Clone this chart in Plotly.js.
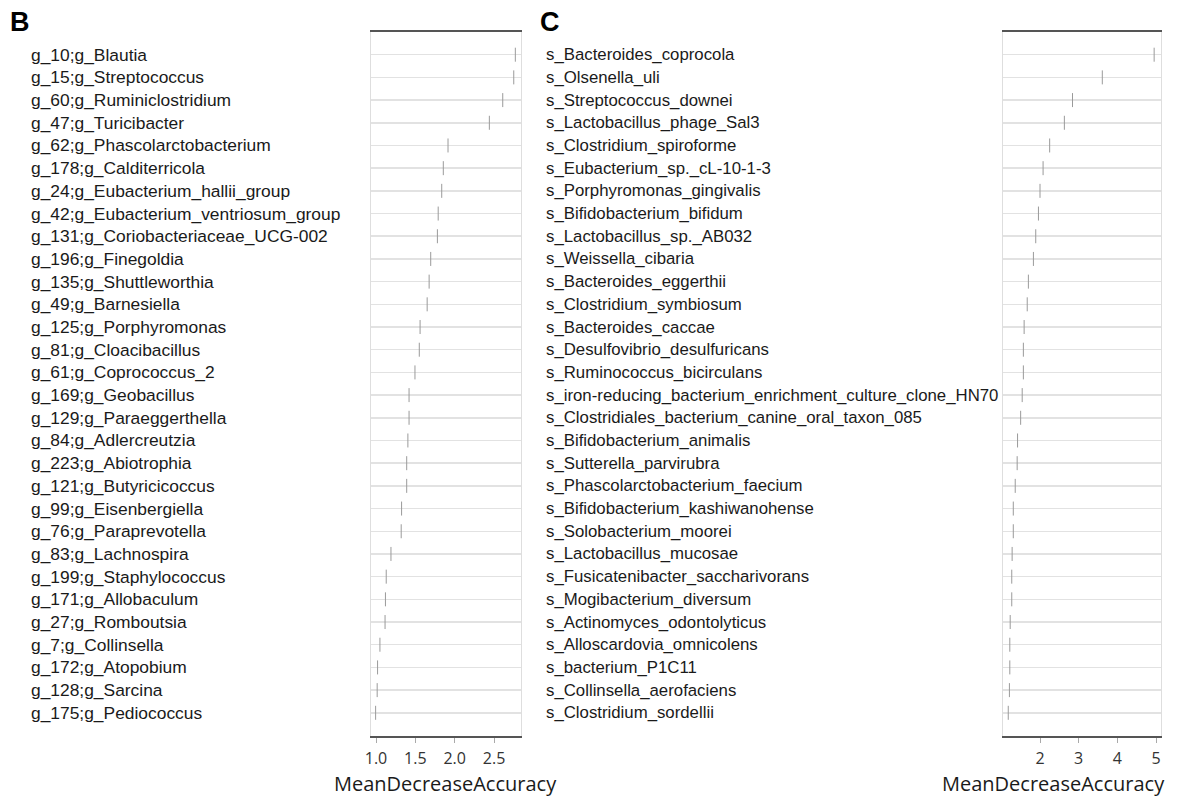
<!DOCTYPE html>
<html>
<head>
<meta charset="utf-8">
<script src="https://cdn.plot.ly/plotly-3.0.1.min.js"></script>
<style>html,body{margin:0;padding:0;background:#fff;}#chart{width:1181px;height:799px;}</style>
</head>
<body>
<div id="chart"></div>
<script>
// Panel B: genus-level features
const genusLabels = [
  "g_10;g_Blautia","g_15;g_Streptococcus","g_60;g_Ruminiclostridium","g_47;g_Turicibacter",
  "g_62;g_Phascolarctobacterium","g_178;g_Calditerricola","g_24;g_Eubacterium_hallii_group",
  "g_42;g_Eubacterium_ventriosum_group","g_131;g_Coriobacteriaceae_UCG-002","g_196;g_Finegoldia",
  "g_135;g_Shuttleworthia","g_49;g_Barnesiella","g_125;g_Porphyromonas","g_81;g_Cloacibacillus",
  "g_61;g_Coprococcus_2","g_169;g_Geobacillus","g_129;g_Paraeggerthella","g_84;g_Adlercreutzia",
  "g_223;g_Abiotrophia","g_121;g_Butyricicoccus","g_99;g_Eisenbergiella","g_76;g_Paraprevotella",
  "g_83;g_Lachnospira","g_199;g_Staphylococcus","g_171;g_Allobaculum","g_27;g_Romboutsia",
  "g_7;g_Collinsella","g_172;g_Atopobium","g_128;g_Sarcina","g_175;g_Pediococcus"
];
const genusMDA = [
  2.77,2.75,2.61,2.44,1.915,1.855,1.835,1.79,1.78,1.695,
  1.675,1.65,1.56,1.55,1.495,1.42,1.42,1.405,1.39,1.39,
  1.325,1.32,1.19,1.13,1.12,1.115,1.05,1.02,1.015,0.995
];

// Panel C: species-level features
const speciesLabels = [
  "s_Bacteroides_coprocola","s_Olsenella_uli","s_Streptococcus_downei","s_Lactobacillus_phage_Sal3",
  "s_Clostridium_spiroforme","s_Eubacterium_sp._cL-10-1-3","s_Porphyromonas_gingivalis",
  "s_Bifidobacterium_bifidum","s_Lactobacillus_sp._AB032","s_Weissella_cibaria","s_Bacteroides_eggerthii",
  "s_Clostridium_symbiosum","s_Bacteroides_caccae","s_Desulfovibrio_desulfuricans",
  "s_Ruminococcus_bicirculans","s_iron-reducing_bacterium_enrichment_culture_clone_HN70",
  "s_Clostridiales_bacterium_canine_oral_taxon_085","s_Bifidobacterium_animalis","s_Sutterella_parvirubra",
  "s_Phascolarctobacterium_faecium","s_Bifidobacterium_kashiwanohense","s_Solobacterium_moorei",
  "s_Lactobacillus_mucosae","s_Fusicatenibacter_saccharivorans","s_Mogibacterium_diversum",
  "s_Actinomyces_odontolyticus","s_Alloscardovia_omnicolens","s_bacterium_P1C11",
  "s_Collinsella_aerofaciens","s_Clostridium_sordellii"
];
const speciesMDA = [
  4.95,3.61,2.84,2.63,2.25,2.08,2.0,1.96,1.89,1.83,
  1.70,1.67,1.59,1.57,1.57,1.54,1.50,1.42,1.41,1.36,
  1.31,1.31,1.28,1.27,1.27,1.23,1.22,1.22,1.21,1.18
];

const xTicksB = [1.0, 1.5, 2.0, 2.5];
const xTicksC = [2, 3, 4, 5];
const xTitle = "MeanDecreaseAccuracy";
const panelLetters = ["B", "C"];

const W = 1181, H = 799;
const yDom = [1 - 735.5 / H, 1 - 32 / H];
const xDomB = [371 / W, 521 / W];
const xDomC = [1003 / W, 1160.5 / W];

const labelFontB = {family: "'Liberation Sans',Arial,sans-serif", size: 17.4, color: "#1a1a1a"};
const labelFontC = {family: "'Liberation Sans',Arial,sans-serif", size: 16.8, color: "#1a1a1a"};
const tickFont = {family: "'Open Sans',sans-serif", size: 16, color: "#333"};
const titleFont = {family: "'Open Sans',sans-serif", size: 20, color: "#1a1a1a"};

function markerTrace(vals, cats, xa, ya) {
  return {
    type: "scatter", mode: "markers", x: vals, y: cats, xaxis: xa, yaxis: ya,
    marker: {symbol: "line-ns", size: 10, line: {width: 1, color: "#9a9a9a"}},
    hoverinfo: "x+y", showlegend: false
  };
}

const data = [
  markerTrace(genusMDA, genusLabels, "x", "y"),
  markerTrace(speciesMDA, speciesLabels, "x2", "y2")
];

function xAxis(dom, range, ticks, fmt, anchor) {
  return {
    domain: dom, range: range, anchor: anchor,
    tickmode: "array", tickvals: ticks, ticktext: ticks.map(v => v.toFixed(fmt)),
    ticks: "outside", ticklen: 5, tickcolor: "#aaa", tickwidth: 1,
    ticklabelstandoff: 2,
    tickfont: tickFont,
    showgrid: false, zeroline: false,
    showline: true, mirror: true, linecolor: "#555", linewidth: 2
  };
}
function yAxis(cats, anchor) {
  return {
    domain: yDom, anchor: anchor, type: "category",
    categoryorder: "array", categoryarray: cats,
    range: [cats.length, -1],
    showticklabels: false, ticks: "",
    showgrid: true, gridcolor: "#e2e2e2", gridwidth: 1.5,
    showline: true, mirror: true, linecolor: "#dedede", linewidth: 1,
    zeroline: false
  };
}

const annotations = [];
genusLabels.forEach(t => annotations.push({
  text: t, xref: "paper", x: 29 / W, xanchor: "left", yref: "y", y: t, yanchor: "middle",
  showarrow: false, font: labelFontB
}));
speciesLabels.forEach(t => annotations.push({
  text: t, xref: "paper", x: 544 / W, xanchor: "left", yref: "y2", y: t, yanchor: "middle",
  showarrow: false, font: labelFontC
}));
annotations.push({text: "<b>" + panelLetters[0] + "</b>", xref: "paper", yref: "paper", x: 8 / W, y: 1 - 5 / H,
  xanchor: "left", yanchor: "top", showarrow: false, font: {family: "'Liberation Sans',Arial,sans-serif", size: 27, color: "#000"}});
annotations.push({text: "<b>" + panelLetters[1] + "</b>", xref: "paper", yref: "paper", x: 538 / W, y: 1 - 5 / H,
  xanchor: "left", yanchor: "top", showarrow: false, font: {family: "'Liberation Sans',Arial,sans-serif", size: 27, color: "#000"}});
// x-axis titles
annotations.push({text: xTitle, xref: "paper", yref: "paper", x: 445 / W, y: 1 / H,
  xanchor: "center", yanchor: "bottom", borderpad: 0, showarrow: false, font: titleFont});
annotations.push({text: xTitle, xref: "paper", yref: "paper", x: 1166 / W, y: 1 / H,
  xanchor: "right", yanchor: "bottom", borderpad: 0, showarrow: false, font: titleFont});

const layout = {
  width: W, height: H,
  margin: {l: 0, r: 0, t: 0, b: 0},
  paper_bgcolor: "#fff", plot_bgcolor: "#fff",
  xaxis: xAxis(xDomB, [0.9365, 2.842], xTicksB, 1, "y"),
  yaxis: yAxis(genusLabels, "x"),
  xaxis2: xAxis(xDomC, [1.044, 5.114], xTicksC, 0, "y2"),
  yaxis2: yAxis(speciesLabels, "x2"),
  annotations: annotations,
  showlegend: false
};

Plotly.newPlot("chart", data, layout, {displayModeBar: false, staticPlot: true});
</script>
</body>
</html>
